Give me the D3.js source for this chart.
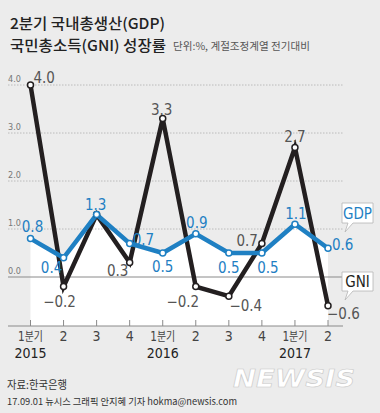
<!DOCTYPE html>
<html><head><meta charset="utf-8">
<script src="https://cdn.jsdelivr.net/npm/d3@7/dist/d3.min.js"></script>
<style>
html,body{margin:0;padding:0;background:#ececec;}
svg{display:block;}
.num{font-family:"Liberation Sans Narrow","DejaVu Sans Condensed",sans-serif;}
.kr{font-family:"Noto Sans CJK KR",sans-serif;}
</style></head>
<body>
<script>
// ---- data ----
const quarters = ["1분기","2","3","4","1분기","2","3","4","1분기","2"];
const years = [{label:"2015", index:0},{label:"2016", index:4},{label:"2017", index:8}];
const gdp = [0.8, 0.4, 1.3, 0.7, 0.5, 0.9, 0.5, 0.5, 1.1, 0.6];
const gni = [4.0, -0.2, 1.3, 0.3, 3.3, -0.2, -0.4, 0.7, 2.7, -0.6];
const yTicks = [0, 1, 2, 3, 4];

// label placement (style only)
const gdpLabelPos = [[2,-7,"middle"],[-12,15,"middle"],[-1,-5,"middle"],[3,2,"start"],[0,19,"middle"],[1,-6,"middle"],[0,20,"middle"],[6,20,"middle"],[1,-5,"middle"],[4,2,"start"]];
const gniLabelPos = [[3,-2,"start"],[-4,20,"middle"],null,[-12,13,"middle"],[-1,-4,"middle"],[-13,20,"middle"],[17,15,"middle"],[-4,3,"end"],[0,-5,"middle"],[-1,13,"start"]];

const W = 380, H = 413;
const svg = d3.select("body").append("svg").attr("width", W).attr("height", H);
svg.append("rect").attr("width", W).attr("height", H).attr("fill", "#ececec");

const x = d3.scalePoint().domain(d3.range(quarters.length)).range([30.5, 328]);
const y = d3.scaleLinear().domain([-1, 4]).range([325, 85]);
const BLUE = "#1f80c3", DARK = "#231f20";
const fmt = v => (v < 0 ? "−" : "") + Math.abs(v).toFixed(1);

// white area under GDP line
svg.append("path").datum(gdp)
  .attr("d", d3.area().x((d,i)=>x(i)).y0(y(-1)+1).y1(d=>y(d)))
  .attr("fill", "#fff");

// gridlines
svg.append("g").selectAll("line").data(yTicks.filter(t=>t!==0)).join("line")
  .attr("x1", 8).attr("x2", 343).attr("y1", d=>y(d)).attr("y2", d=>y(d))
  .attr("stroke", "#b0b0b0").attr("stroke-width", 0.8).attr("stroke-dasharray", "1.5,1.5");
svg.append("line").attr("x1", 8).attr("x2", 343).attr("y1", y(0)).attr("y2", y(0))
  .attr("stroke", "#8a8a8a").attr("stroke-width", 1);

// y tick labels
svg.append("g").selectAll("text").data(yTicks).join("text")
  .attr("class","num").attr("x", 8).attr("y", d=>y(d)-3)
  .attr("font-size", 9).attr("fill", "#777").text(d=>d.toFixed(1));

// bottom axis
const axisY = y(-1) + 1;
svg.append("line").attr("x1", 8).attr("x2", 343).attr("y1", axisY).attr("y2", axisY)
  .attr("stroke", "#8a8a8a").attr("stroke-width", 1);
svg.append("g").selectAll("line").data(quarters).join("line")
  .attr("x1",(d,i)=>x(i)).attr("x2",(d,i)=>x(i)).attr("y1", axisY-6).attr("y2", axisY)
  .attr("stroke", "#8a8a8a").attr("stroke-width", 1);

// x labels
quarters.forEach((q,i)=>{
  if (q.length > 1) {
    const t = svg.append("text").attr("x", x(i)).attr("y", 341).attr("text-anchor","middle")
      .attr("font-size", 13).attr("fill", "#444");
    t.append("tspan").attr("class","num").attr("font-size",14).text(q[0]);
    t.append("tspan").attr("class","kr").attr("font-size",12).text(q.slice(1));
    t.attr("textLength", 25).attr("lengthAdjust","spacingAndGlyphs");
  } else {
    svg.append("text").attr("class","num").attr("x", x(i)).attr("y", 341).attr("text-anchor","middle")
      .attr("font-size", 14).attr("fill", "#444").text(q);
  }
});
svg.append("g").selectAll("text").data(years).join("text")
  .attr("class","num").attr("x", d=>x(d.index)).attr("y", 358).attr("text-anchor","middle")
  .attr("font-size", 14).attr("fill", "#222")
  .text(d=>d.label);

// lines
const line = d3.line().x((d,i)=>x(i)).y(d=>y(d));
svg.append("path").datum(gni).attr("d", line).attr("fill","none")
  .attr("stroke", DARK).attr("stroke-width", 4.5).attr("stroke-linejoin","miter");
svg.append("path").datum(gdp).attr("d", line).attr("fill","none")
  .attr("stroke", BLUE).attr("stroke-width", 4.5).attr("stroke-linejoin","miter");

// markers
svg.append("g").selectAll("circle").data(gni).join("circle")
  .attr("cx",(d,i)=>x(i)).attr("cy",d=>y(d)).attr("r",3)
  .attr("fill","#fff").attr("stroke",DARK).attr("stroke-width",1.5);
svg.append("g").selectAll("circle").data(gdp).join("circle")
  .attr("cx",(d,i)=>x(i)).attr("cy",d=>y(d)).attr("r",3)
  .attr("fill","#fff").attr("stroke",BLUE).attr("stroke-width",1.5);

// value labels
const gniItems = gni.map((v,i)=>({v, i, p: gniLabelPos[i]})).filter(d=>d.p);
const gdpItems = gdp.map((v,i)=>({v, i, p: gdpLabelPos[i]}));
svg.append("g").selectAll("text").data(gniItems).join("text")
  .attr("class","num")
  .attr("x",d=>x(d.i)+d.p[0]).attr("y",d=>y(d.v)+d.p[1])
  .attr("text-anchor",d=>d.p[2])
  .attr("font-size",15).attr("fill","#555").text(d=>fmt(d.v));
svg.append("g").selectAll("text").data(gdpItems).join("text")
  .attr("class","num")
  .attr("x",d=>x(d.i)+d.p[0]).attr("y",d=>y(d.v)+d.p[1])
  .attr("text-anchor",d=>d.p[2])
  .attr("font-size",15).attr("fill",BLUE).text(d=>fmt(d.v));

// callouts
function callout(bx, by, bw, bh, tip, label, color){
  const g = svg.append("g");
  g.append("path")
    .attr("d", `M${bx},${by} H${bx+bw} V${by+bh} H${bx+11} L${tip[0]},${tip[1]} L${bx+6},${by+bh} H${bx} Z`)
    .attr("fill","#fff").attr("stroke","#b5b5b5").attr("stroke-width",0.8);
  g.append("text").attr("class","num").attr("x", bx+bw/2).attr("y", by+bh-4.5)
    .attr("text-anchor","middle").attr("font-size",15).attr("fill",color).text(label);
}
callout(342, 203, 31, 20, [345, 232], "GDP", BLUE);
callout(342, 272, 31, 19, [345, 300], "GNI", DARK);

// titles
svg.append("text").attr("class","kr").attr("x",10).attr("y",29).attr("font-size",15)
  .attr("font-weight",500).attr("fill","#222").attr("textLength",155).attr("lengthAdjust","spacingAndGlyphs")
  .text("2분기 국내총생산(GDP)");
svg.append("text").attr("class","kr").attr("x",10).attr("y",51).attr("font-size",15)
  .attr("font-weight",500).attr("fill","#222").attr("textLength",156).attr("lengthAdjust","spacingAndGlyphs")
  .text("국민총소득(GNI) 성장률");
svg.append("text").attr("class","kr").attr("x",173).attr("y",50).attr("font-size",10)
  .attr("fill","#555").attr("textLength",137).attr("lengthAdjust","spacingAndGlyphs")
  .text("단위:%, 계절조정계열 전기대비");

// footer
svg.append("text").attr("class","kr").attr("x",7).attr("y",389).attr("font-size",11)
  .attr("fill","#333").attr("textLength",60).attr("lengthAdjust","spacingAndGlyphs").text("자료:한국은행");
svg.append("text").attr("class","kr").attr("x",7).attr("y",405).attr("font-size",9.5)
  .attr("fill","#333").attr("textLength",230).attr("lengthAdjust","spacingAndGlyphs")
  .text("17.09.01 뉴시스 그래픽 안지혜 기자 hokma@newsis.com");

// watermark
svg.append("text").attr("x",233).attr("y",387).attr("font-family","DejaVu Sans")
  .attr("font-size",25).attr("font-weight",700).attr("font-style","italic")
  .attr("fill","#fff").attr("stroke","#c8c8c8").attr("stroke-width",0.6)
  .attr("textLength",122).attr("lengthAdjust","spacingAndGlyphs").text("NEWSIS");
</script>
</body></html>
